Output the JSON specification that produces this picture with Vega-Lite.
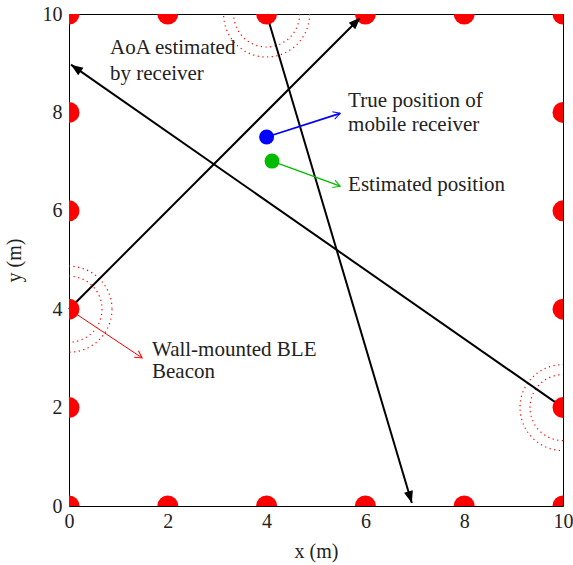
{
  "$schema": "https://vega.github.io/schema/vega-lite/v6.json",
  "width": 494,
  "height": 492,
  "autosize": "none",
  "padding": {"left": 69, "top": 14, "right": 10, "bottom": 59},
  "background": "white",
  "config": {
    "view": {"stroke": "black", "strokeWidth": 1},
    "axis": {
      "grid": false, "ticks": false, "domain": false, "labelFlush": false, "labelOverlap": false,
      "labelFont": "Liberation Serif", "labelFontSize": 20, "labelColor": "#222",
      "titleFont": "Liberation Serif", "titleFontSize": 20, "titleFontWeight": "normal", "titleColor": "#222"
    }
  },
  "datasets": {
    "beacons": [
      {"x": 0, "y": 0}, {"x": 2, "y": 0}, {"x": 4, "y": 0}, {"x": 6, "y": 0}, {"x": 8, "y": 0}, {"x": 10, "y": 0},
      {"x": 0, "y": 10}, {"x": 2, "y": 10}, {"x": 4, "y": 10}, {"x": 6, "y": 10}, {"x": 8, "y": 10}, {"x": 10, "y": 10},
      {"x": 0, "y": 2}, {"x": 0, "y": 4}, {"x": 0, "y": 6}, {"x": 0, "y": 8},
      {"x": 10, "y": 2}, {"x": 10, "y": 4}, {"x": 10, "y": 6}, {"x": 10, "y": 8}
    ],
    "rings": [
      {"x": 4, "y": 10, "ring": "inner"}, {"x": 4, "y": 10, "ring": "outer"},
      {"x": 0, "y": 4, "ring": "inner"}, {"x": 0, "y": 4, "ring": "outer"},
      {"x": 10, "y": 2, "ring": "inner"}, {"x": 10, "y": 2, "ring": "outer"}
    ],
    "segs": [
      {"x": 0, "y": 4, "x2": 5.9, "y2": 9.93, "kind": "aoa"},
      {"x": 10, "y": 2, "x2": 0.04, "y2": 8.97, "kind": "aoa"},
      {"x": 4, "y": 10, "x2": 6.94, "y2": 0.06, "kind": "aoa"},
      {"x": 4, "y": 7.5, "x2": 5.49, "y2": 7.98, "kind": "true"},
      {"x": 4.11, "y": 7.01, "x2": 5.49, "y2": 6.5, "kind": "est"},
      {"x": 0, "y": 4, "x2": 1.48, "y2": 3.01, "kind": "beacon"}
    ],
    "pos": [
      {"x": 4, "y": 7.5, "kind": "true"},
      {"x": 4.11, "y": 7.01, "kind": "est"}
    ],
    "labels": [
      {"x": 0.83, "y": 9.3, "text": "AoA estimated"},
      {"x": 0.83, "y": 8.78, "text": "by receiver"},
      {"x": 5.65, "y": 8.23, "text": "True position of"},
      {"x": 5.65, "y": 7.74, "text": "mobile receiver"},
      {"x": 5.65, "y": 6.52, "text": "Estimated position"},
      {"x": 1.68, "y": 3.17, "text": "Wall-mounted BLE"},
      {"x": 1.68, "y": 2.72, "text": "Beacon"}
    ]
  },
  "encoding": {
    "x": {"field": "x", "type": "quantitative", "scale": {"domain": [0, 10], "nice": false},
          "axis": {"title": "x (m)", "values": [0, 2, 4, 6, 8, 10], "labelPadding": 5, "titlePadding": 10}},
    "y": {"field": "y", "type": "quantitative", "scale": {"domain": [0, 10], "nice": false},
          "axis": {"title": "y (m)", "values": [0, 2, 4, 6, 8, 10], "labelPadding": 7, "titlePadding": 18}}
  },
  "layer": [
    {
      "data": {"name": "rings"},
      "mark": {"type": "point", "shape": "circle", "filled": false, "clip": true, "color": "red", "strokeWidth": 1.2, "strokeDash": [1.2, 3.5], "opacity": 1},
      "encoding": {
        "size": {"field": "ring", "type": "nominal", "scale": {"domain": ["inner", "outer"], "range": [4356, 7396]}, "legend": null}
      }
    },
    {
      "data": {"name": "segs"},
      "mark": {"type": "rule"},
      "encoding": {
        "x2": {"field": "x2"},
        "y2": {"field": "y2"},
        "color": {"field": "kind", "type": "nominal", "scale": {"domain": ["aoa", "true", "est", "beacon"], "range": ["black", "#0000ff", "#00bb00", "#ff0000"]}, "legend": null},
        "strokeWidth": {"field": "kind", "type": "nominal", "scale": {"domain": ["aoa", "true", "est", "beacon"], "range": [2, 1, 1, 1]}, "legend": null}
      }
    },
    {
      "data": {"name": "beacons"},
      "mark": {"type": "point", "shape": "circle", "filled": true, "clip": true, "color": "#ff0000", "size": 440, "opacity": 1}
    },
    {
      "data": {"name": "pos"},
      "mark": {"type": "point", "shape": "circle", "filled": true, "size": 225, "opacity": 1},
      "encoding": {
        "color": {"field": "kind", "type": "nominal", "scale": {"domain": ["true", "est"], "range": ["#0000ff", "#00cc00"]}, "legend": null}
      }
    },
    {
      "data": {"name": "segs"},
      "transform": [
        {"filter": "datum.kind === 'aoa'"},
        {"calculate": "atan2(datum.x2 - datum.x, datum.y2 - datum.y) * 180 / PI", "as": "heading"}
      ],
      "mark": {"type": "point", "shape": "M 0 0 L 0.38 1 L -0.38 1 Z", "filled": true, "color": "black", "size": 576, "opacity": 1},
      "encoding": {
        "x": {"field": "x2", "type": "quantitative"},
        "y": {"field": "y2", "type": "quantitative"},
        "angle": {"field": "heading", "type": "quantitative", "scale": null}
      }
    },
    {
      "data": {"name": "segs"},
      "transform": [
        {"filter": "datum.kind !== 'aoa'"},
        {"calculate": "atan2(datum.x2 - datum.x, datum.y2 - datum.y) * 180 / PI", "as": "heading"}
      ],
      "mark": {"type": "point", "shape": "M -0.55 1 L 0 0 L 0.55 1", "filled": false, "strokeWidth": 1, "size": 196, "opacity": 1},
      "encoding": {
        "x": {"field": "x2", "type": "quantitative"},
        "y": {"field": "y2", "type": "quantitative"},
        "angle": {"field": "heading", "type": "quantitative", "scale": null},
        "color": {"field": "kind", "type": "nominal", "scale": {"domain": ["aoa", "true", "est", "beacon"], "range": ["black", "#0000ff", "#00bb00", "#ff0000"]}, "legend": null}
      }
    },
    {
      "data": {"name": "labels"},
      "mark": {"type": "text", "align": "left", "baseline": "middle", "font": "Liberation Serif", "fontSize": 21, "color": "#222"},
      "encoding": {"text": {"field": "text"}}
    }
  ]
}
